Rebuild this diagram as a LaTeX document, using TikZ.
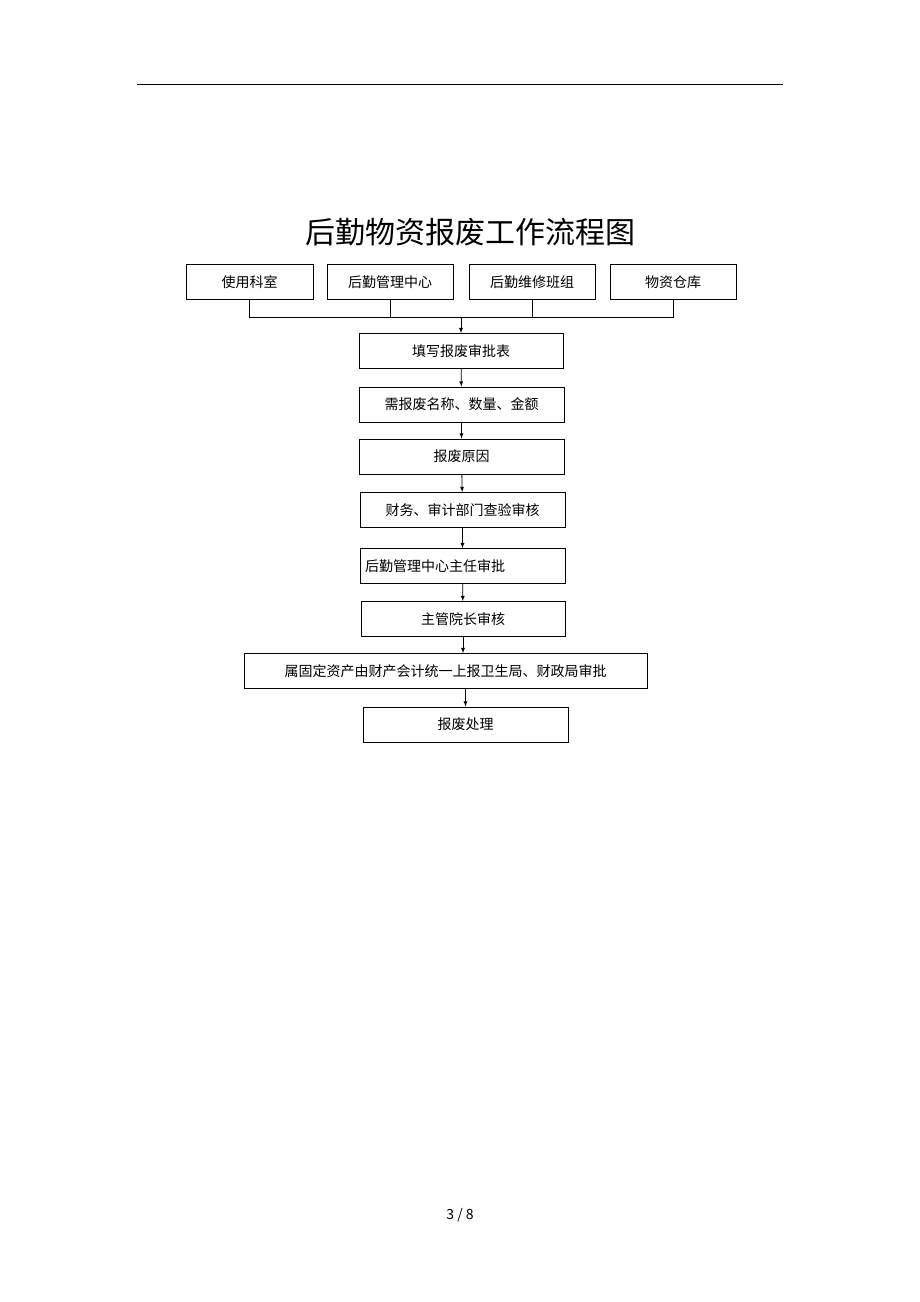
\documentclass[tikz,border=0pt]{standalone}
\usepackage{fontspec}
\setmainfont{Noto Sans CJK SC}
\begin{document}
\begin{tikzpicture}[x=1pt,y=-1pt,
  bx/.style={draw,thick,minimum height=35pt,inner sep=0pt,font=\fontsize{14}{16}\selectfont},
  arr/.style={-latex,thick}]
\useasboundingbox (0,0) rectangle (920,1302);
\draw[thick] (137,84) -- (783,84);
\node[font=\fontsize{30}{34}\selectfont] (t) at (470,232) {后勤物资报废工作流程图};
\node[bx,minimum width=127pt] (a1) at (249.5,282) {使用科室};
\node[bx,minimum width=126pt] (a2) at (390,282) {后勤管理中心};
\node[bx,minimum width=126pt] (a3) at (532,282) {后勤维修班组};
\node[bx,minimum width=126pt] (a4) at (673,282) {物资仓库};
\coordinate (bus) at (461,317);
\draw[thick] (a1.south) |- (a4.south |- bus) -- (a4.south);
\draw[thick] (a2.south) -- (a2.south |- bus);
\draw[thick] (a3.south) -- (a3.south |- bus);
\node[bx,minimum width=204pt] (b1) at (461,351) {填写报废审批表};
\node[bx,minimum width=205pt] (b2) at (461.5,404.5) {需报废名称、数量、金额};
\node[bx,minimum width=205pt] (b3) at (461.5,456.5) {报废原因};
\node[bx,minimum width=205pt] (b4) at (462.5,510) {财务、审计部门查验审核};
\node[bx,minimum width=205pt,text width=195pt,align=left] (b5) at (462.5,566) {后勤管理中心主任审批};
\node[bx,minimum width=204pt] (b6) at (463,619) {主管院长审核};
\node[bx,minimum width=403pt] (b7) at (445.5,671) {属固定资产由财产会计统一上报卫生局、财政局审批};
\node[bx,minimum width=205pt] (b8) at (465.5,724.5) {报废处理};
\draw[arr] (bus) -- (b1);
\draw[arr] (b1) -- (b2);
\draw[arr] (b2) -- (b3);
\draw[arr] (b3) -- (b4);
\draw[arr] (b4) -- (b5);
\draw[arr] (b5) -- (b6);
\draw[arr] (b6.south) -- (b6.south |- b7.north);
\draw[arr] (b7.south -| b8.north) -- (b8.north);
\node[font=\fontsize{14}{16}\selectfont] (pg) at (460,1215) {3 / 8};
\end{tikzpicture}
\end{document}
